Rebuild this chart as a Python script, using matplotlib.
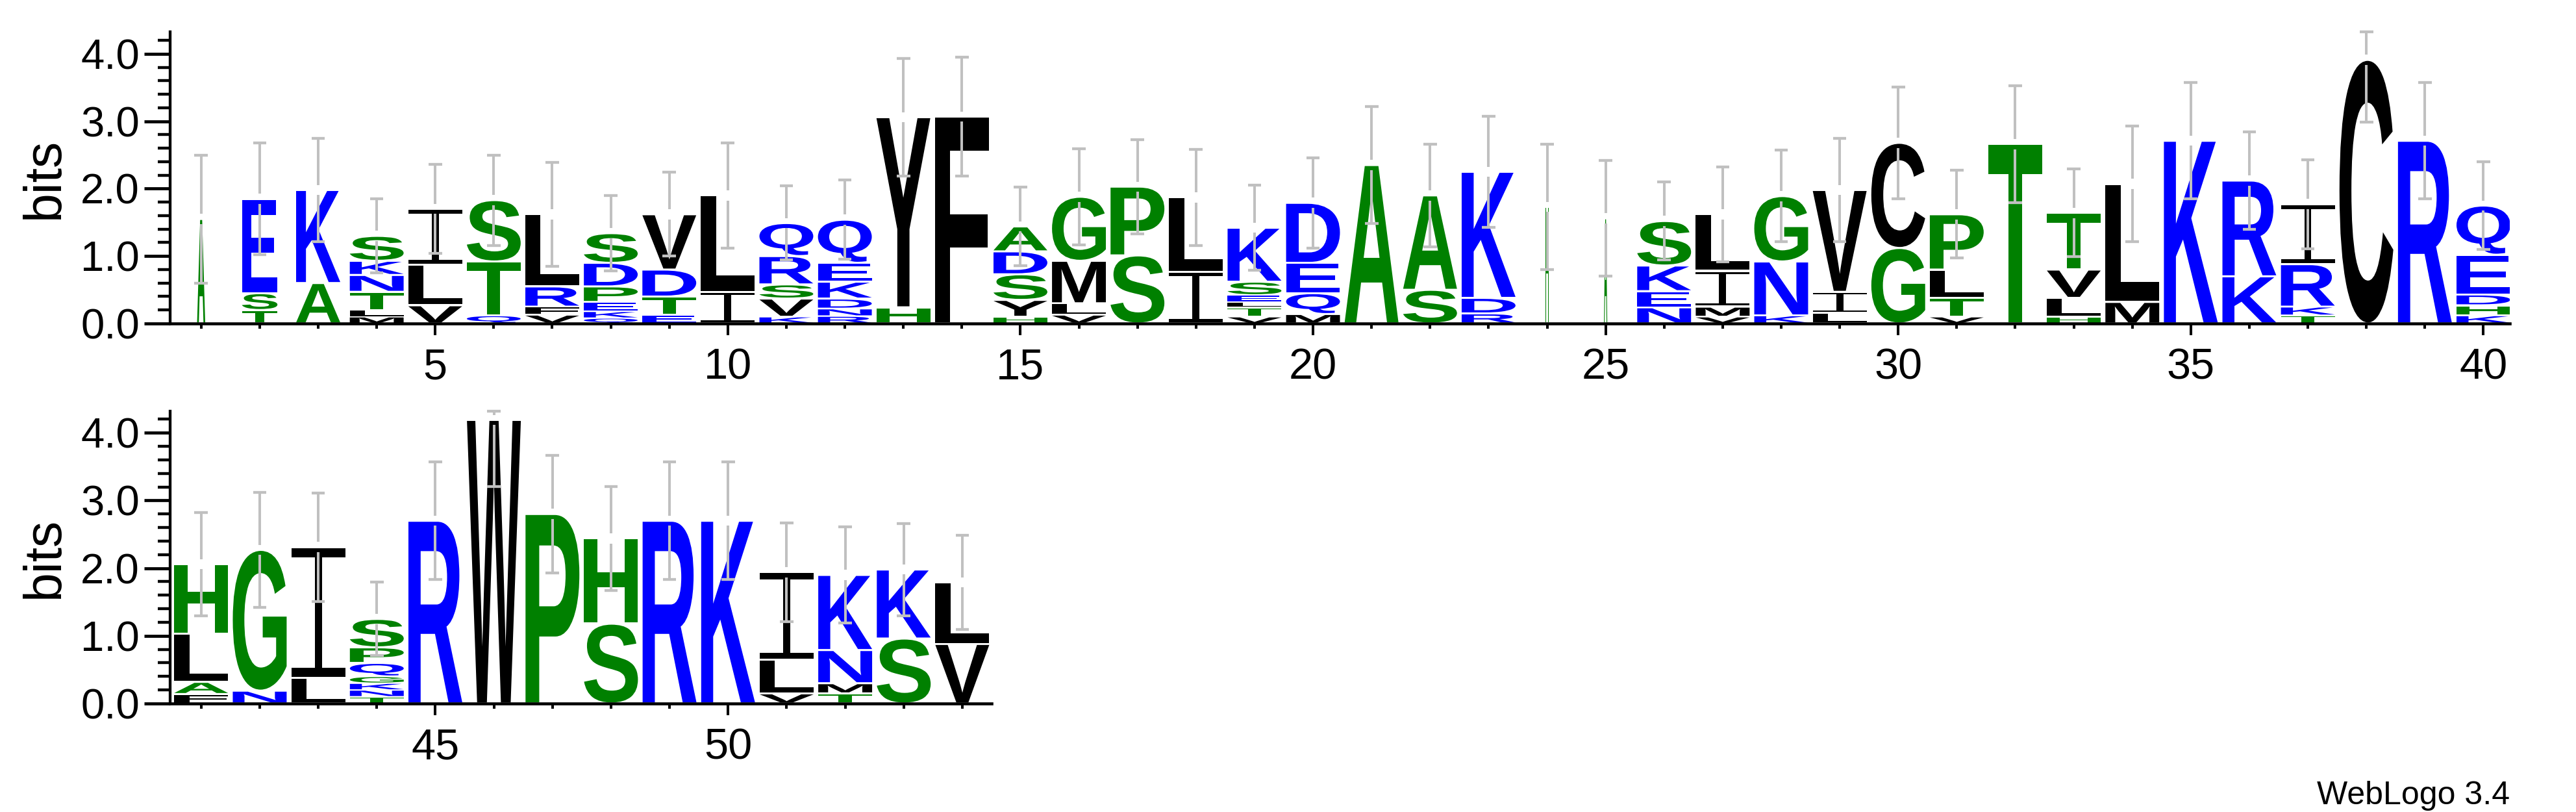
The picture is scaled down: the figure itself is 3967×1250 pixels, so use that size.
import matplotlib
matplotlib.use('Agg')
import numpy as np
import matplotlib.pyplot as plt
import matplotlib.transforms as mtransforms
from matplotlib.textpath import TextPath
from matplotlib.patches import PathPatch, Rectangle
from matplotlib.font_manager import FontProperties
from matplotlib.ticker import MultipleLocator, FixedLocator

plt.rcParams['font.family'] = ['Liberation Sans', 'DejaVu Sans']

# sequence logo, columns 1..54; letters listed bottom -> top
letters = ["A", "TSE", "AK", "MLTNKS", "VLI", "QTS", "VFRL", "QKEPDS", "ETDV", "IL",
           "KVSRQ", "RNDKEQ", "HY", "F", "HYSDA", "VLMG", "SP", "IL", "VTLESK", "MQED",
           "A", "SA", "RDK", "H", "A", "NEKS", "VMIL", "KNG", "LIV", "GC",
           "VTLP", "T", "HLVT", "ML", "K", "KR", "TKRI", "C", "R", "KHDEQ",
           "FALH", "NG", "LI", "TNKGQPS", "R", "W", "P", "SH", "R", "K",
           "VLI", "TMNK", "SK", "VL"]

heights = [[1.55], [0.2, 0.25, 1.4], [0.6, 1.38], [0.1, 0.1, 0.27, 0.25, 0.21, 0.37],
           [0.27, 0.6, 0.83], [0.12, 0.8, 0.91], [0.13, 0.12, 0.3, 1.07],
           [0.08, 0.1, 0.14, 0.23, 0.35, 0.44], [0.13, 0.27, 0.4, 0.82], [0.47, 1.43],
           [0.1, 0.27, 0.21, 0.42, 0.49], [0.11, 0.11, 0.15, 0.25, 0.28, 0.64],
           [0.24, 2.82], [3.07], [0.1, 0.25, 0.38, 0.34, 0.37], [0.13, 0.17, 0.63, 0.95],
           [1.01, 1.02], [0.77, 1.1], [0.1, 0.14, 0.08, 0.1, 0.2, 0.8],
           [0.14, 0.31, 0.45, 0.89], [2.35], [0.5, 1.4], [0.15, 0.23, 1.87], [1.73],
           [1.56], [0.24, 0.24, 0.38, 0.66], [0.1, 0.15, 0.53, 0.84], [0.12, 0.8, 0.97],
           [0.16, 0.31, 1.51], [1.12, 1.56], [0.1, 0.28, 0.42, 0.82], [2.66],
           [0.1, 0.28, 0.42, 0.84], [0.32, 1.75], [2.71], [0.7, 1.42],
           [0.12, 0.13, 0.63, 0.89], [3.91], [2.71], [0.12, 0.15, 0.16, 0.59, 0.73],
           [0.14, 0.18, 0.71, 1.03], [0.19, 2.08], [0.38, 1.93],
           [0.1, 0.1, 0.1, 0.1, 0.2, 0.23, 0.42], [2.7], [4.19], [2.8], [1.18, 1.26],
           [2.7], [2.7], [0.15, 0.5, 1.29], [0.15, 0.15, 0.49, 1.11], [0.96, 1.02],
           [0.88, 0.91]]

errors = [0.95, 0.83, 0.77, 0.55, 0.66, 0.67, 0.77, 0.56, 0.62, 0.78,
          0.55, 0.59, 0.87, 0.88, 0.58, 0.71, 0.70, 0.71, 0.63, 0.67,
          0.87, 0.76, 0.82, 0.93, 0.86, 0.58, 0.70, 0.68, 0.77, 0.83,
          0.65, 0.87, 0.65, 0.86, 0.86, 0.72, 0.66, 0.92, 0.86, 0.65,
          0.76, 0.85, 0.80, 0.54, 0.87, 0.98, 0.87, 0.77, 0.87, 0.87,
          0.73, 0.71, 0.68, 0.70]

# fraction of non-gap residues (narrows the column)
occupancy = {1: 0.15, 2: 0.66, 3: 0.82, 24: 0.07, 25: 0.06}

max_bits = np.log2(20)

green, blue, black = '#008000', '#0000ff', '#000000'
colors = {}
for c in 'ASTGPH':
    colors[c] = green
for c in 'EKDQRN':
    colors[c] = blue
for c in 'LVIMYFCW':
    colors[c] = black

fp = FontProperties(family='Liberation Sans', weight='bold')
err_color = '#c0c0c0'


def draw_letter(ax, ch, x, y0, w, h, color):
    pad = min(0.015, h * 0.1)
    y0 = y0 + pad
    h = h - 2 * pad
    if ch == 'I':
        # serif I like weblogo
        bar = 0.07 * h
        ax.add_patch(Rectangle((x - w / 2, y0), w, bar, color=color, lw=0))
        ax.add_patch(Rectangle((x - w / 2, y0 + h - bar), w, bar, color=color, lw=0))
        ax.add_patch(Rectangle((x - w * 0.065, y0), w * 0.13, h, color=color, lw=0))
        return
    tp = TextPath((0, 0), ch, size=1, prop=fp)
    bb = tp.get_extents()
    t = (mtransforms.Affine2D().translate(-bb.x0, -bb.y0)
         .scale(w / bb.width, h / bb.height).translate(x - w / 2, y0))
    ax.add_patch(PathPatch(t.transform_path(tp), facecolor=color, edgecolor='none', lw=0))


def draw_row(ax, first, last):
    gap = 0.075
    for pos in range(first, last + 1):
        i = pos - 1
        w = 0.92 * occupancy.get(pos, 1.0)
        y = 0.0
        for ch, h in zip(letters[i], heights[i]):
            draw_letter(ax, ch, pos, y, w, h, colors[ch])
            y += h
        lo = y - errors[i]
        hi = min(y + errors[i], max_bits)
        # error bar, broken around the stack top
        ax.vlines([pos, pos], [lo, y + gap], [y - gap, hi], colors=err_color,
                  lw=2.9, zorder=5, clip_on=False)
        ax.hlines([lo, hi], pos - 0.115, pos + 0.115, colors=err_color,
                  lw=3.1, zorder=5, clip_on=False)


def style(ax, xlim, majors, minors):
    ax.set_xlim(*xlim)
    ax.set_ylim(0, max_bits)
    for s in ['top', 'right']:
        ax.spines[s].set_visible(False)
    ax.spines['left'].set_linewidth(3.1)
    ax.spines['bottom'].set_linewidth(3.3)
    ax.yaxis.set_major_locator(MultipleLocator(1))
    ax.yaxis.set_minor_locator(MultipleLocator(0.2))
    ax.set_yticklabels(['%.1f' % v for v in ax.get_yticks()])
    ax.xaxis.set_major_locator(FixedLocator(majors))
    ax.xaxis.set_minor_locator(FixedLocator(minors))
    ax.tick_params(axis='y', which='major', length=29, width=3.4, labelsize=47, pad=5)
    ax.tick_params(axis='y', which='minor', length=14, width=3.2)
    ax.tick_params(axis='x', which='major', length=13, width=2.9, labelsize=48, pad=14)
    ax.tick_params(axis='x', which='minor', length=5.8, width=2.9)


W, H = 3967, 1250
fig = plt.figure(figsize=(W / 100, H / 100), dpi=100)
ax1 = fig.add_axes([262 / W, 752 / H, (3865 - 262) / W, max_bits * 103.8 / H])
ax2 = fig.add_axes([262 / W, 167 / H, (1527 - 262) / W, max_bits * 104.2 / H])

draw_row(ax1, 1, 40)
draw_row(ax2, 41, 54)
style(ax1, (0.47, 40.45), [5, 10, 15, 20, 25, 30, 35, 40], list(range(1, 41)))
style(ax2, (40.47, 54.5), [45, 50], list(range(41, 55)))

fig.text(69 / W, (H - 274) / H, 'bits', rotation=90, ha='center', va='center', fontsize=58)
fig.text(69 / W, (H - 858) / H, 'bits', rotation=90, ha='center', va='center', fontsize=58)
fig.text(3865 / W, (H - 1238) / H, 'WebLogo 3.4', ha='right', va='baseline', fontsize=36)

fig.savefig('out.png', dpi=100)
